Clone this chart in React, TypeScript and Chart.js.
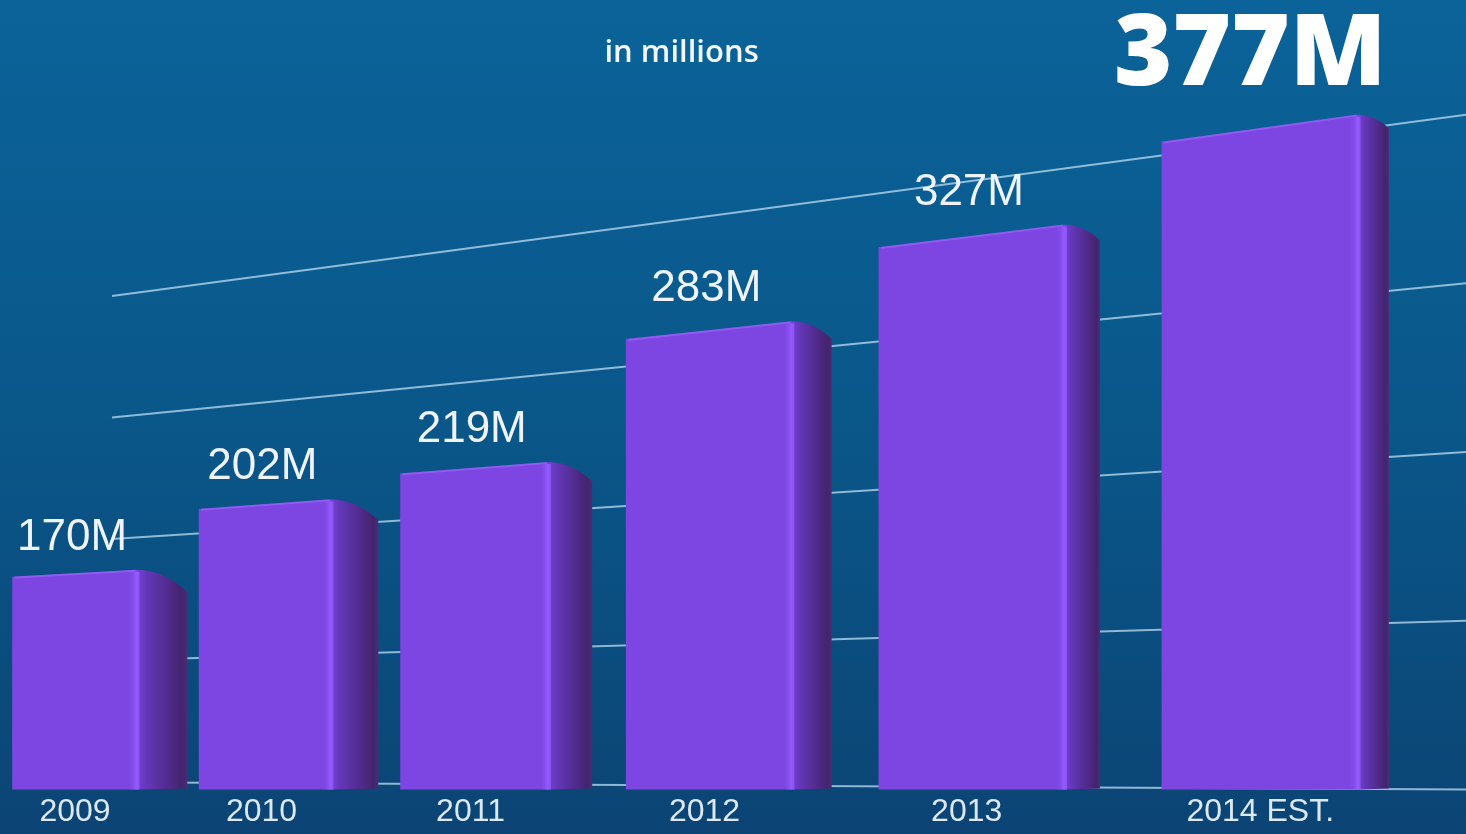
import React, { useEffect, useRef } from 'react';
import { Chart, registerables, CategoryScale } from 'chart.js';

// Yearly users, in millions
const years = ['2009', '2010', '2011', '2012', '2013', '2014 EST.'];
const users = [170, 202, 219, 283, 327, 377];
// Guide lines painted on the back wall (wall-axis values)
const wallLines = [0, 100, 200, 300, 400];
const valueSuffix = 'M';
const subtitle = 'in millions';

// Perspective of the scene: categories spread out toward the viewer (right),
// and the wall guide lines / bar tops recede toward a vanishing point on the left.
const DEPTH = 0.68;
const LEAD = 0.0075;
const VANISH = { x: -3374, y: 763 };
const WALL_LEFT = 112;

const FRONT = '#7d45e1';
const TEXT = '#eef4fa';
const SANS = '"Liberation Sans", Arial, sans-serif';

class PerspectiveCategoryScale extends CategoryScale {
  static id = 'perspectiveCategory';
  static defaults = CategoryScale.defaults;

  getPixelForDecimal(decimal: number) {
    const w = ((Math.exp(DEPTH * decimal) - 1) / (Math.exp(DEPTH) - 1)) * (1 + LEAD) - LEAD;
    return super.getPixelForDecimal(w);
  }

  getDecimalForPixel(pixel: number) {
    const w = super.getDecimalForPixel(pixel);
    const u = (w + LEAD) / (1 + LEAD);
    return Math.log(1 + u * (Math.exp(DEPTH) - 1)) / DEPTH;
  }
}

Chart.register(...registerables, PerspectiveCategoryScale);

// y of the line through (x0, y0) and the vanishing point, evaluated at x
const towardVanish = (x0: number, y0: number, x: number) =>
  VANISH.y + ((y0 - VANISH.y) * (x - VANISH.x)) / (x0 - VANISH.x);

const sideWidth = (right: number) => Math.max(18, 52 - 0.016 * right);

// geometry of a bar element, with its foot held on the floor of the plot
const barBox = (chart: any, el: any) => {
  const { x, y, base, width } = el.getProps(['x', 'y', 'base', 'width'], true);
  const bottom = Math.min(base, chart.chartArea.bottom);
  return { left: x - width / 2, right: x + width / 2, x, y, bottom };
};

const backdrop = {
  id: 'backdrop',
  beforeDraw(chart: any) {
    const { ctx, width, height } = chart;
    const g = ctx.createLinearGradient(0, 0, 0, height);
    g.addColorStop(0, '#0a6399');
    g.addColorStop(0.5, '#0a578a');
    g.addColorStop(1, '#0b4474');
    ctx.save();
    ctx.fillStyle = g;
    ctx.fillRect(0, 0, width, height);
    ctx.restore();
  },
};

const wall = {
  id: 'wall',
  beforeDatasetsDraw(chart: any) {
    const { ctx } = chart;
    const scale = chart.scales.wall;
    const xR = chart.width;
    ctx.save();
    ctx.strokeStyle = 'rgba(175, 212, 236, 0.8)';
    ctx.lineWidth = 2;
    wallLines.forEach((v) => {
      const yR = scale.getPixelForValue(v);
      ctx.beginPath();
      ctx.moveTo(WALL_LEFT, towardVanish(xR, yR, WALL_LEFT));
      ctx.lineTo(xR, yR);
      ctx.stroke();
    });
    ctx.restore();
  },
};

const bars3d = {
  id: 'bars3d',
  beforeDatasetDraw(chart: any, args: any) {
    const { ctx } = chart;
    ctx.save();
    ctx.beginPath();
    args.meta.data.forEach((el: any) => {
      const b = barBox(chart, el);
      const left = b.left - 1;
      const right = b.right + 1;
      ctx.moveTo(left, towardVanish(right, b.y, left));
      ctx.lineTo(right, b.y);
      ctx.lineTo(right, b.bottom + 2);
      ctx.lineTo(left, b.bottom + 2);
      ctx.closePath();
    });
    ctx.clip();
  },
  afterDatasetDraw(chart: any, args: any) {
    const { ctx } = chart;
    ctx.restore();
    ctx.save();
    args.meta.data.forEach((el: any) => {
      const { left, right, y, bottom } = barBox(chart, el);
      const sw = sideWidth(right);
      const drop = sw * 0.45;

      // side face
      const g = ctx.createLinearGradient(right, 0, right + sw, 0);
      g.addColorStop(0, '#7240d4');
      g.addColorStop(0.2, '#6337b6');
      g.addColorStop(0.65, '#4f2a88');
      g.addColorStop(0.9, '#43246c');
      g.addColorStop(1, '#4b2b7a');
      ctx.fillStyle = g;
      ctx.beginPath();
      ctx.moveTo(right, y);
      ctx.quadraticCurveTo(right + sw * 0.55, y + 1, right + sw, y + drop);
      ctx.lineTo(right + sw, bottom - 1);
      ctx.lineTo(right, bottom);
      ctx.closePath();
      ctx.fill();

      // lit edge between front and side faces
      const e = ctx.createLinearGradient(right - 10, 0, right + 2, 0);
      e.addColorStop(0, 'rgba(125, 69, 225, 0)');
      e.addColorStop(0.75, 'rgba(150, 92, 255, 0.95)');
      e.addColorStop(1, 'rgba(140, 84, 245, 0.9)');
      ctx.fillStyle = e;
      ctx.fillRect(right - 10, y + 2, 12, bottom - y - 2);

      // soft highlight along the top edge of the front face
      const yL = towardVanish(right, y, left);
      ctx.strokeStyle = 'rgba(160, 110, 255, 0.55)';
      ctx.lineWidth = 2;
      ctx.beginPath();
      ctx.moveTo(left + 2, yL + 1);
      ctx.lineTo(right - 2, y + 1);
      ctx.stroke();
    });
    ctx.restore();
  },
  afterDatasetsDraw(chart: any) {
    const { ctx } = chart;
    const meta = chart.getDatasetMeta(0);
    const last = users.length - 1;
    ctx.save();
    ctx.textAlign = 'center';
    ctx.textBaseline = 'alphabetic';
    meta.data.forEach((el: any, i: number) => {
      const { x, y } = el.getProps(['x', 'y'], true);
      const text = `${users[i]}${valueSuffix}`;
      if (i === last) {
        ctx.fillStyle = '#ffffff';
        ctx.font = '800 100px "Open Sans", sans-serif';
        ctx.fillText(text, x - 10, y - 30);
      } else {
        ctx.fillStyle = TEXT;
        ctx.font = `44px ${SANS}`;
        ctx.fillText(text, x - 3, y - 20);
      }
    });
    ctx.restore();
  },
  afterDraw(chart: any) {
    const { ctx, chartArea } = chart;
    ctx.save();
    ctx.fillStyle = '#f2f7fb';
    ctx.font = '600 31px "Open Sans", sans-serif';
    ctx.textAlign = 'center';
    ctx.textBaseline = 'alphabetic';
    ctx.fillText(subtitle, chartArea.left + (chartArea.right - chartArea.left) * 0.48, 62);
    ctx.restore();
  },
};

export default function App() {
  const canvasRef = useRef<HTMLCanvasElement>(null);

  useEffect(() => {
    document.body.style.margin = '0';
    const canvas = canvasRef.current;
    if (!canvas) return;
    const chart = new Chart(canvas, {
      type: 'bar',
      data: {
        labels: years,
        datasets: [
          {
            data: users,
            backgroundColor: FRONT,
            borderWidth: 0,
            barThickness: 'flex',
            categoryPercentage: 0.67,
            barPercentage: 1,
          },
        ],
      },
      options: {
        responsive: false,
        animation: false,
        layout: { padding: { left: 0, right: 46, top: 64, bottom: 0 } },
        plugins: {
          legend: { display: false },
          tooltip: { enabled: false },
        },
        scales: {
          x: {
            type: 'perspectiveCategory',
            offset: true,
            grid: { display: false, drawTicks: false },
            border: { display: false },
            ticks: {
              color: '#dce8f4',
              font: { family: SANS, size: 32 },
              padding: 3,
              autoSkip: false,
              maxRotation: 0,
            },
          },
          y: { type: 'linear', min: 70, max: 400, display: false },
          wall: { type: 'linear', position: 'right', min: 0, max: 430, display: false },
        },
      } as any,
      plugins: [backdrop, wall, bars3d],
    });
    return () => chart.destroy();
  }, []);

  return <canvas ref={canvasRef} width={1466} height={834} style={{ display: 'block' }} />;
}
